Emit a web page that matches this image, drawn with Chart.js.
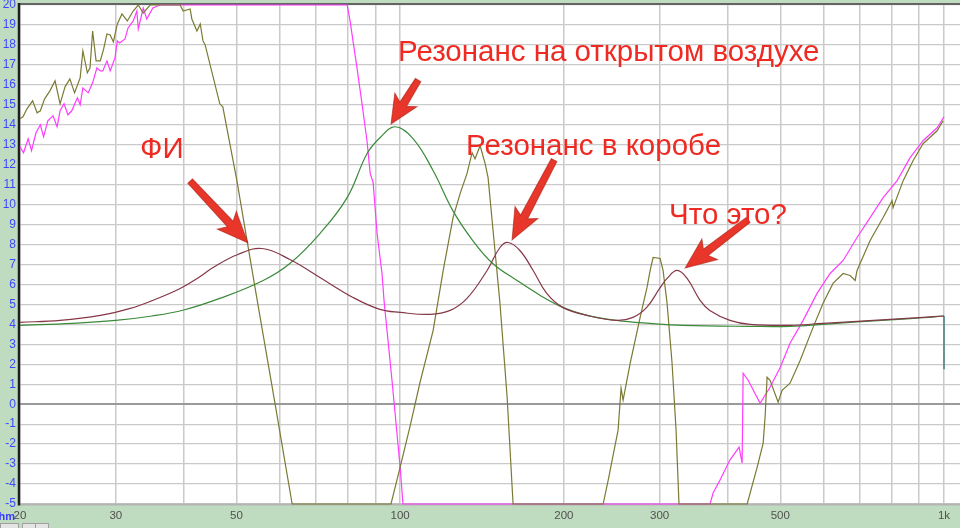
<!DOCTYPE html>
<html><head><meta charset="utf-8">
<script src="https://cdn.jsdelivr.net/npm/chart.js@4"></script>
<style>html,body{margin:0;padding:0;background:#c0dcc0;overflow:hidden}</style>
</head><body>
<canvas id="c" width="960" height="528"></canvas>
<script>
// ---- axis / tick data ----
const xGrid = [20,30,40,50,60,70,80,90,100,200,300,400,500,600,700,800,900,1000];
const xLabelValues = [20,30,50,100,200,300,500,1000];
const xLabelTexts = ['20','30','50','100','200','300','500','1k'];
const yMin = -5, yMax = 20;

// ---- series: impedance in box (maroon) ----
const maroonFreq = [20,23.7,28.1,31.9,34.7,39.4,42.9,45.3,50.3,55.7,62.7,71.2,81.9,91.8,100,113.5,123.6,132.7,144.5,152.6,157.9,166,175.6,186,199,220.6,250,268,284,300,309.6,323,337,356,371,404,440,521,599,692,796,915,1000];
const maroonVal  = [4.1,4.2,4.45,4.8,5.15,5.8,6.4,6.85,7.5,7.8,7.25,6.35,5.35,4.75,4.6,4.5,4.7,5.3,6.7,7.85,8.1,7.7,6.7,5.55,4.85,4.45,4.2,4.35,4.85,5.8,6.3,6.7,6.3,5.2,4.7,4.2,4.0,3.95,4.05,4.15,4.25,4.35,4.42];

// ---- series: impedance free air (green) ----
const greenFreq = [20,25,30,35,40,46.6,56,62.7,71.2,79.9,86.9,91.8,97.9,105.6,115,125,136,148,164,181,199,220.6,250,288,331,440,521,599,692,796,915,1000];
const greenVal  = [3.95,4.05,4.2,4.42,4.72,5.3,6.2,7.05,8.55,10.35,12.55,13.35,13.9,13.3,11.7,9.7,8.2,7.05,6.2,5.45,4.85,4.45,4.2,4.05,3.95,3.9,3.9,4.0,4.12,4.22,4.33,4.42];

// ---- end drop at 1 kHz (teal) ----
const dropFreq = [1000,1000];
const dropVal  = [4.42,1.75];

// ---- series: olive ----
const oliveFreq = [20,20.25,20.6,21.1,21.5,21.8,22.2,22.7,23.2,23.7,24.2,24.7,25.2,25.8,26.1,26.6,26.9,27.2,27.6,28.1,28.5,28.9,29.3,29.7,30.2,30.8,31.5,32.3,33.0,33.7,34.7,39.4,39.9,41.1,41.4,42.3,42.9,43.4,43.8,46.6,47.2,50.1,52.3,54.6,58.9,63.3,96.2,100,104.3,108.8,115,120,125.1,128.9,132.7,135.6,137.3,140.3,143.3,145.1,148.2,152.6,157.3,161.3,236.2,241.3,251.6,254.8,257,264.8,276.2,284.4,288.2,291.8,300.6,304.4,309.6,316.2,321.6,325.6,434.6,453.4,465,468.8,472.8,478.8,495.4,503.8,521,544,574.4,599,625,652.4,672,686.4,692,731.4,772.8,802.6,806,841.2,877,915,971.2,996];
const oliveVal  = [14.3,14.4,14.8,15.2,14.6,14.7,15.3,15.7,16.2,15.05,15.9,16.3,15.6,16.35,17.7,16.6,16.85,18.7,17.2,17.2,17.8,18.55,18.5,18.15,19.05,19.55,19.2,19.7,20,19.6,20,20,19.7,19.8,19.3,18.7,19.05,18.2,18.0,15.05,14.9,11.2,8.2,5.2,0,-5,-5,-3.15,-1.1,1.1,3.7,6.7,9.35,10.55,11.55,12.6,12.3,12.95,12.05,11.35,8.7,5.05,0.35,-5,-5,-3.8,-1.3,0.8,0.2,2.05,4.35,5.85,6.7,7.35,7.3,6.7,5.05,2.05,-1.3,-5,-5,-3.15,-1.95,-0.65,1.35,1.2,0.1,0.7,1.05,2.2,3.85,5.05,6.05,6.55,6.45,6.2,6.7,8.2,9.35,10.2,9.85,11.2,12.2,13.05,13.7,14.2];

// ---- series: magenta ----
const magFreq = [20,20.3,20.7,21.0,21.4,21.8,22.1,22.5,23.0,23.4,23.7,24.1,24.5,24.9,25.5,25.8,26.1,26.7,27.2,27.7,28.1,28.4,28.9,29.3,29.9,30.2,30.5,31.2,31.6,32.3,32.8,33.0,33.7,34.2,35.1,36.2,79.9,80.9,81.9,83.3,85.1,86.9,88.1,89.2,90.7,92.6,93.4,96.6,100,101.2,371.4,376.2,387.4,404,420,425.4,427.2,436.4,459,478.8,500,521,550.8,584.2,617.4,652.4,692,731.4,772.8,820,866.4,915,971.2,1000];
const magVal  = [12.9,12.6,13.3,12.7,13.6,14.0,13.4,14.2,14.45,13.9,14.7,15.05,14.5,14.7,15.35,15.0,15.85,15.6,16.1,16.85,16.7,16.7,17.2,16.7,17.35,18.2,18.1,18.3,18.85,19.2,19.7,18.8,19.85,19.3,19.85,20,20,19.2,18.2,16.85,15.05,13.2,11.55,11.1,8.55,6.55,5.2,1.2,-3.15,-5,-5,-4.45,-3.8,-2.8,-2.15,-2.95,1.55,1.2,0.05,0.85,1.85,3.05,4.2,5.55,6.55,7.2,8.35,9.35,10.35,11.2,12.35,13.2,13.85,14.4];

// ---- annotations (in data units) ----
const noteTexts = ['Резонанс на открытом воздухе','ФИ','Резонанс в коробе','Что это?'];
const noteFreq  = [99.1, 33.25, 132.2, 312.2];
const noteVal   = [17.19, 12.33, 12.49, 9.03];
const arrowFrom = [[41.1,11.18],[107.9,16.24],[191.9,12.23],[436.4,9.23]];
const arrowTo   = [[52.5,8.08],[96.2,14.04],[160.6,8.23],[334.2,6.82]];

const pts = (xs, ys) => xs.map((x, i) => ({x, y: ys[i]}));

function drawArrow(ctx, x1, y1, x2, y2) {
  const dx = x2 - x1, dy = y2 - y1, L = Math.hypot(dx, dy), ang = Math.atan2(dy, dx);
  const h = Math.min(31, L * 0.55), w = 13, s = 4;
  ctx.save();
  ctx.translate(x2, y2); ctx.rotate(ang);
  ctx.beginPath();
  ctx.moveTo(0, 0);
  ctx.lineTo(-h, -w);
  ctx.lineTo(-h + 5, -s);
  ctx.lineTo(-L, -s * 0.8);
  ctx.lineTo(-L, s * 0.8);
  ctx.lineTo(-h + 5, s);
  ctx.lineTo(-h, w);
  ctx.closePath();
  ctx.fillStyle = '#e8362a';
  ctx.fill();
  ctx.strokeStyle = 'rgba(170,30,20,0.6)';
  ctx.lineWidth = 1;
  ctx.stroke();
  ctx.restore();
}

const deco = {
  id: 'deco',
  beforeDraw(chart) {
    const {ctx, chartArea: a, width, height} = chart;
    ctx.save();
    ctx.fillStyle = '#c0dcc0'; ctx.fillRect(0, 0, width, height);
    ctx.fillStyle = '#ffffff'; ctx.fillRect(a.left, a.top, width - a.left, a.bottom - a.top);
    ctx.restore();
  },
  beforeDatasetsDraw(chart) {
    const {ctx, chartArea: a, width} = chart;
    ctx.save();
    ctx.strokeStyle = '#b4b4b4'; ctx.lineWidth = 2;
    ctx.beginPath(); ctx.moveTo(a.left, a.bottom + 0.5); ctx.lineTo(width, a.bottom + 0.5); ctx.stroke();
    ctx.strokeStyle = '#646464'; ctx.lineWidth = 2;
    ctx.beginPath(); ctx.moveTo(a.left - 2, a.top - 1); ctx.lineTo(width, a.top - 1); ctx.stroke();
    ctx.strokeStyle = '#1e1e1e'; ctx.lineWidth = 2.5;
    ctx.beginPath(); ctx.moveTo(a.left - 1, a.top - 2); ctx.lineTo(a.left - 1, a.bottom + 1.5); ctx.stroke();
    ctx.restore();
  },
  afterDraw(chart) {
    const {ctx, scales: {x, y}, chartArea: a} = chart;
    ctx.save();
    for (let i = 0; i < arrowFrom.length; i++) {
      drawArrow(ctx,
        x.getPixelForValue(arrowFrom[i][0]), y.getPixelForValue(arrowFrom[i][1]),
        x.getPixelForValue(arrowTo[i][0]), y.getPixelForValue(arrowTo[i][1]));
    }
    ctx.fillStyle = '#ee2a22';
    ctx.font = '29.5px "Liberation Sans", Arial, sans-serif';
    ctx.textAlign = 'left'; ctx.textBaseline = 'alphabetic';
    for (let i = 0; i < noteTexts.length; i++) {
      ctx.fillText(noteTexts[i], x.getPixelForValue(noteFreq[i]), y.getPixelForValue(noteVal[i]));
    }
    ctx.font = 'bold 11px "Liberation Sans", Arial, sans-serif';
    ctx.fillStyle = '#3a3aff';
    ctx.textAlign = 'right'; ctx.textBaseline = 'middle';
    ctx.fillText('Ohm', 15, a.bottom + 13);
    ctx.fillStyle = '#e4e4e4'; ctx.strokeStyle = '#a0a0a0'; ctx.lineWidth = 1;
    [[0, 18], [22, 13], [35, 13]].forEach(([bx, bw]) => {
      ctx.fillRect(bx + 0.5, 523.5, bw, 6); ctx.strokeRect(bx + 0.5, 523.5, bw, 6);
    });
    ctx.restore();
  }
};

new Chart(document.getElementById('c'), {
  type: 'line',
  data: {
    datasets: [
      {data: pts(maroonFreq, maroonVal), borderColor: '#863848', borderWidth: 1.2, pointRadius: 0, tension: 0.4, clip: 4},
      {data: pts(greenFreq, greenVal), borderColor: '#3a8a3a', borderWidth: 1.2, pointRadius: 0, tension: 0.4, clip: 4},
      {data: pts(dropFreq, dropVal), borderColor: '#3f8080', borderWidth: 1.5, pointRadius: 0, tension: 0, clip: 4},
      {data: pts(oliveFreq, oliveVal), borderColor: '#7a7a34', borderWidth: 1.2, pointRadius: 0, tension: 0, clip: 4},
      {data: pts(magFreq, magVal), borderColor: '#ff3cff', borderWidth: 1.2, pointRadius: 0, tension: 0, clip: 4}
    ]
  },
  options: {
    responsive: false, animation: false, devicePixelRatio: 1,
    layout: {padding: {top: 5, right: 0, bottom: 0, left: 0}},
    plugins: {legend: {display: false}, tooltip: {enabled: false}},
    scales: {
      x: {
        type: 'logarithmic', min: 20, max: 1070,
        afterBuildTicks: s => { s.ticks = xGrid.map(v => ({value: v})); },
        afterFit: s => { s.height = 24; s.paddingLeft = 0; s.paddingRight = 0; },
        ticks: {
          autoSkip: false, maxRotation: 0, padding: 5, color: '#505050',
          font: {family: '"Liberation Sans", Arial, sans-serif', size: 11.5},
          callback: v => { const i = xLabelValues.indexOf(v); return i >= 0 ? xLabelTexts[i] : ''; }
        },
        grid: {color: '#cacaca', lineWidth: 1.5, drawTicks: false},
        border: {display: false}
      },
      y: {
        type: 'linear', min: yMin, max: yMax,
        afterFit: s => { s.width = 20; s.paddingTop = 0; s.paddingBottom = 0; },
        ticks: {stepSize: 1, padding: 4, color: '#3c48ff', font: {family: '"Liberation Sans", Arial, sans-serif', size: 12}},
        grid: {
          color: c => c.tick && c.tick.value === 0 ? '#9a9a9a' : '#cacaca',
          lineWidth: c => c.tick && c.tick.value === 0 ? 2 : 1.3,
          drawTicks: false
        },
        border: {display: false}
      }
    }
  },
  plugins: [deco]
});
</script>
</body></html>
